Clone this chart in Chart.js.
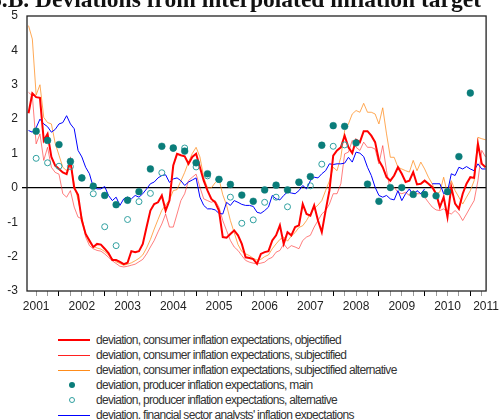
<!DOCTYPE html>
<html>
<head>
<meta charset="utf-8">
<script src="https://cdn.jsdelivr.net/npm/chart.js@4.4.1/dist/chart.umd.min.js"></script>
<style>
  html, body { margin: 0; padding: 0; background: #fff; }
  #wrap { position: relative; width: 502px; height: 419px; overflow: hidden; }
  #title { position: absolute; left: -10px; top: -12px; font: bold 23.5px "Liberation Serif", serif; line-height: 23px; color: #111; white-space: nowrap; }
  #box { position: absolute; left: 0; top: 0; width: 502px; height: 320px; }
  .row { position: absolute; left: 96px; font: 12px "Liberation Sans", sans-serif; letter-spacing: -0.7px; line-height: 15px; color: #333; white-space: nowrap; }
  .sw { position: absolute; }
</style>
</head>
<body>
<div id="wrap">
  <div id="box"><canvas id="chart"></canvas></div>
  <div id="title">6.B. Deviations from interpolated inflation target</div>
  <div id="legend"></div>
</div>
<script>
// monthly series, first observation May 2001
const startYear = 2001;
const startMonth = 5;

const objectified = [
  2.17, 2.75, 2.64, 2.62, 1.38, 1.57, 0.9, 0.65, 0.55, 0.45,
  0.4, 0.78, 0.0, -0.2, -0.95, -1.34, -1.53, -1.72, -1.63, -1.65,
  -1.77, -1.9, -2.1, -2.1, -2.15, -2.22, -2.18, -1.84, -1.87, -1.84,
  -1.63, -1.14, -0.66, -0.47, -0.42, -0.22, -0.66, -0.37, 0.65, 0.99,
  0.95, 0.92, 0.7, 0.9, 0.99, 0.6, 0.21, -0.08, -0.32, -0.42,
  -0.66, -1.43, -1.45, -1.34, -1.24, -1.38, -1.63, -2.02, -2.04, -2.07,
  -2.21, -1.92, -1.87, -1.84, -1.53, -1.38, -1.09, -1.63, -1.29, -1.38,
  -1.14, -1.09, -0.47, -0.76, -0.81, -0.51, -0.95, -1.29, -0.66, -0.08,
  0.94, 1.09, 1.18, 1.52, 1.18, 1.01, 1.4, 1.33, 1.65, 1.65,
  1.52, 1.33, 0.8, 0.6, 0.31, 0.21, 0.36, 0.6, 0.41, 0.17,
  0.21, 0.46, 0.1, 0.12, 0.21, 0.12, 0.02, -0.17, -0.56, -0.27,
  -0.85, 0.02, -0.46, -0.61, -0.17, 0.12, 0.31, 0.29, 1.28, 0.7,
  0.6
];

const subjectified = [
  2.78, 2.68, 1.28, 1.57, 0.8, 1.18, 0.6, 0.45, 0.4, -0.17,
  -0.27, -0.08, -0.56, -0.85, -0.9, -1.43, -1.68, -1.77, -1.82, -1.84,
  -1.92, -2.02, -2.12, -2.2, -2.28, -2.3, -2.28, -2.25, -2.22, -2.15,
  -2.08, -1.92, -1.72, -1.53, -1.28, -1.05, -0.76, -1.14, -1.14, -0.76,
  -0.37, -0.17, 0.21, 0.31, 0.4, 0.02, -0.32, -0.37, -0.42, -0.37,
  -0.56, -0.95, -1.24, -1.53, -1.72, -1.82, -1.97, -2.11, -2.16, -2.19,
  -2.21, -2.19, -2.16, -2.07, -2.02, -1.87, -1.82, -1.63, -1.77, -1.68,
  -1.72, -1.77, -1.53, -1.43, -1.38, -1.14, -0.95, -0.76, -0.66, -0.47,
  -0.17, -0.17, 0.12, 0.99, 1.04, 1.38, 1.18, 1.09, 1.33, 1.18,
  1.18, 1.13, 0.7, 1.23, 0.5, -0.08, 0.02, -0.13, -0.17, -0.13,
  -0.22, -0.08, -0.17, -0.17, -0.27, -0.42, -0.56, -0.64, -0.66, -0.61,
  -0.71, -0.76, -0.66, -0.76, -0.95, -0.76, -0.56, -0.37, 0.21, 1.09,
  0.9
];

const subjectifiedAlt = [
  4.72, 4.33, 2.7, 3.0, 2.05, 1.9, 1.86, 1.3, 0.95, 0.6,
  0.5, 0.75, 0.1, -0.35, -0.85, -1.35, -1.6, -1.7, -1.75, -1.78,
  -1.85, -1.95, -2.05, -2.15, -2.2, -2.25, -2.22, -2.18, -2.12, -2.05,
  -1.95, -1.75, -1.5, -1.2, -0.92, -0.65, -0.5, -0.35, -0.08, -0.05,
  0.2, 0.45, 0.75, 1.0, 1.18, 0.9, 0.3, 0.0, 0.0, 0.15,
  0.26, -0.2, -0.5, -0.95, -1.3, -1.65, -1.85, -1.92, -1.97, -2.05,
  -2.1, -2.08, -2.0, -1.95, -1.77, -1.63, -1.5, -1.43, -1.55, -1.4,
  -1.3, -1.15, -1.1, -0.95, -0.75, -0.6, -0.5, -0.37, -0.08, 0.2,
  0.6, 0.5, 0.89, 1.67, 1.86, 2.15, 2.25, 2.2, 2.46, 2.2,
  2.2, 2.15, 1.86, 2.33, 1.57, 0.89, 0.89, 0.6, 0.55, 0.5,
  0.46, 0.8, 0.5, 0.75, 0.55, 0.31, 0.12, -0.17, -0.12, 0.31,
  -0.17, 0.21, -0.08, -0.27, -0.47, -0.27, -0.08, 0.21, 1.47, 1.43,
  1.4
];

const analysts = [
  1.67, 1.62, 1.75, 2.0, 1.86, 1.78, 1.62, 1.7, 1.86, 1.9,
  2.1, 1.86, 1.72, 1.09, 0.9, 0.6, 0.41, 0.02, -0.03, -0.03,
  0.04, -0.22, -0.37, -0.27, -0.51, -0.32, -0.27, -0.32, -0.22, -0.27,
  -0.17, -0.03, 0.12, 0.17, 0.29, 0.36, 0.38, 0.16, 0.26, 0.29,
  0.21, 0.07, 0.17, 0.23, 0.29, -0.27, -0.51, -0.61, -0.61, -0.64,
  -0.74, -0.76, -0.42, -0.51, -0.37, -0.42, -0.48, -0.51, -0.51, -0.54,
  -0.71, -0.74, -0.66, -0.56, -0.22, -0.32, -0.35, -0.22, -0.12, -0.15,
  -0.17, -0.08, 0.07, -0.03, 0.21, 0.31, 0.29, 0.41, 0.5, 0.7,
  0.68, 0.7, 0.7, 0.72, 0.89, 0.75, 1.04, 1.01, 0.91, 0.6,
  0.36, 0.02, -0.22, -0.27, -0.22, -0.32, -0.35, -0.08, -0.37, -0.17,
  -0.03, -0.22, -0.08, -0.17, -0.03, null, 0.12, 0.12, 0.12, -0.17,
  -0.12, 0.41, 0.36, 0.6, 0.55, 0.62, 0.55, 0.5, 0.7, 0.55,
  0.55
];

// quarterly producer survey, first observation July 2001
const producerStartMonth = 7;
const producerMain = [
  1.65, 1.38, 1.26, 0.77, 0.29, 0.05, -0.22, -0.49, -0.36, -0.11,
  0.55, 1.21, 1.16, 1.07, 0.73, 0.41, 0.25, 0.1, -0.21, -0.39,
  -0.06, 0.08, -0.06, 0.17, 0.33, 1.24, 1.81, 1.79, 1.31, 0.11,
  -0.39, 0.01, 0.01, -0.19, -0.19, -0.23, -0.11, 0.91, 2.76
];
const producerAlt = [
  0.86, 0.73, 0.63, 0.62, 0.29, -0.17, -1.13, -1.68, -0.92, -0.4,
  -0.16, 0.44, 1.15, 1.16, 0.61, 0.35, 0.24, -0.27, -1.03, -0.93,
  -0.42, -0.27, -0.55, 0.15, 0.06, 0.69, 1.21, 1.25, null, null,
  null, null, null, null, null, null, null, null, null
];

const yearLabels = ['2001', '2002', '2003', '2004', '2005', '2006', '2007', '2008', '2009', '2010', '2011'];
const yTicks = [-3, -2, -1, 0, 1, 2, 3, 4, 5];

const xMin = 2001.3;
const xMax = 2011.345;

const monthly = (arr) => arr.map((v, i) => ({ x: startYear + (startMonth - 1 + i) / 12, y: v }));
const quarterly = (arr) => arr.map((v, k) => ({ x: startYear + (producerStartMonth - 1 + 3 * k) / 12, y: v }));

const legendItems = [
  { text: 'deviation, consumer inflation expectations, objectified', kind: 'line', color: '#ff0000', w: 2.5 },
  { text: 'deviation, consumer inflation expectations, subjectified', kind: 'line', color: '#ff2020', w: 1 },
  { text: 'deviation, consumer inflation expectations, subjectified alternative', kind: 'line', color: '#ff8c1a', w: 1 },
  { text: 'deviation, producer inflation expectations, main', kind: 'dot' },
  { text: 'deviation, producer inflation expectations, alternative', kind: 'ring' },
  { text: "deviation, financial sector analysts' inflation expectations", kind: 'line', color: '#0000ff', w: 1 }
];

const frame = {
  id: 'frame',
  afterDatasetsDraw(chart) {
    const a = chart.chartArea, c = chart.ctx;
    c.save();
    c.strokeStyle = '#222';
    c.lineWidth = 1.3;
    c.strokeRect(a.left, a.top, a.right - a.left, a.bottom - a.top);
    c.restore();
  }
};

const ctx = document.getElementById('chart').getContext('2d');
const chart = new Chart(ctx, {
  type: 'line',
  data: {
    datasets: [
      {
        label: 'producer main',
        data: quarterly(producerMain),
        showLine: false,
        pointRadius: 3.4,
        pointBackgroundColor: '#0a7d7a',
        pointBorderColor: '#0a7d7a',
        pointBorderWidth: 0.5,
        order: 0
      },
      {
        label: 'producer alternative',
        data: quarterly(producerAlt),
        showLine: false,
        pointRadius: 3,
        pointBackgroundColor: 'rgba(255,255,255,0)',
        pointBorderColor: '#30a0a0',
        pointBorderWidth: 1,
        order: 1
      },
      {
        label: 'objectified',
        data: monthly(objectified),
        borderColor: '#ff0000',
        borderWidth: 2,
        pointRadius: 0,
        tension: 0,
        order: 2
      },
      {
        label: 'analysts',
        data: monthly(analysts),
        borderColor: '#0000ff',
        borderWidth: 1,
        pointRadius: 0,
        tension: 0,
        spanGaps: false,
        order: 3
      },
      {
        label: 'subjectified',
        data: monthly(subjectified),
        borderColor: 'rgba(255,40,40,0.6)',
        borderWidth: 1,
        pointRadius: 0,
        tension: 0,
        order: 4
      },
      {
        label: 'subjectified alternative',
        data: monthly(subjectifiedAlt),
        borderColor: 'rgba(255,140,30,0.75)',
        borderWidth: 1,
        pointRadius: 0,
        tension: 0,
        order: 5
      }
    ]
  },
  options: {
    responsive: true,
    maintainAspectRatio: false,
    animation: false,
    layout: { padding: { left: 0, right: 14, top: 16, bottom: 0 } },
    plugins: { legend: { display: false }, tooltip: { enabled: false } },
    scales: {
      x: {
        type: 'linear',
        min: xMin,
        max: xMax,
        border: { display: false },
        grid: {
          drawOnChartArea: false,
          tickLength: 5,
          tickColor: (c) => {
            const v = c.tick ? c.tick.value : 0;
            if (v === xMax) return 'rgba(0,0,0,0)';
            return Number.isInteger(v) ? '#000' : '#999';
          }
        },
        afterBuildTicks: (scale) => {
          const t = [];
          for (let q = 2001 * 4 + 2; q <= 2011 * 4 + 1; q++) t.push({ value: q / 4 });
          t.push({ value: xMax });
          scale.ticks = t;
        },
        afterFit: (scale) => { scale.height = 29; },
        ticks: {
          autoSkip: false,
          maxRotation: 0,
          minRotation: 0,
          padding: 3,
          color: '#222',
          font: { family: 'Liberation Sans', size: 12 },
          callback: (v) => {
            if (v === xMax) return yearLabels[yearLabels.length - 1];
            if (v % 1 === 0.5) return yearLabels[Math.floor(v) - 2001];
            return '';
          }
        }
      },
      y: {
        min: -3,
        max: 5,
        border: { display: false },
        afterBuildTicks: (scale) => { scale.ticks = yTicks.map(v => ({ value: v })); },
        afterFit: (scale) => { scale.width = 27; },
        grid: {
          tickLength: 5,
          tickColor: '#000',
          color: (c) => (c.tick && c.tick.value === 0) ? '#000' : 'rgba(0,0,0,0)',
          lineWidth: (c) => (c.tick && c.tick.value === 0) ? 1.3 : 0
        },
        ticks: {
          padding: 4,
          color: '#222',
          font: { family: 'Liberation Sans', size: 12 }
        }
      }
    }
  },
  plugins: [frame]
});

// legend below the plot
const leg = document.getElementById('legend');
legendItems.forEach((it, i) => {
  const cy = 340 + 15 * i;
  const row = document.createElement('div');
  row.className = 'row';
  row.style.top = (cy - 7.5) + 'px';
  row.textContent = it.text;
  leg.appendChild(row);
  const sw = document.createElement('div');
  sw.className = 'sw';
  if (it.kind === 'line') {
    sw.style.left = '58px';
    sw.style.width = '32px';
    sw.style.top = (cy - it.w / 2) + 'px';
    sw.style.height = it.w + 'px';
    sw.style.background = it.color;
  } else {
    sw.style.left = '69px';
    sw.style.top = (cy - 3) + 'px';
    sw.style.width = '6px';
    sw.style.height = '6px';
    sw.style.borderRadius = '50%';
    sw.style.boxSizing = 'border-box';
    if (it.kind === 'dot') sw.style.background = '#0a7d7a';
    else sw.style.border = '1px solid #30a0a0';
  }
  leg.appendChild(sw);
});
</script>
</body>
</html>
